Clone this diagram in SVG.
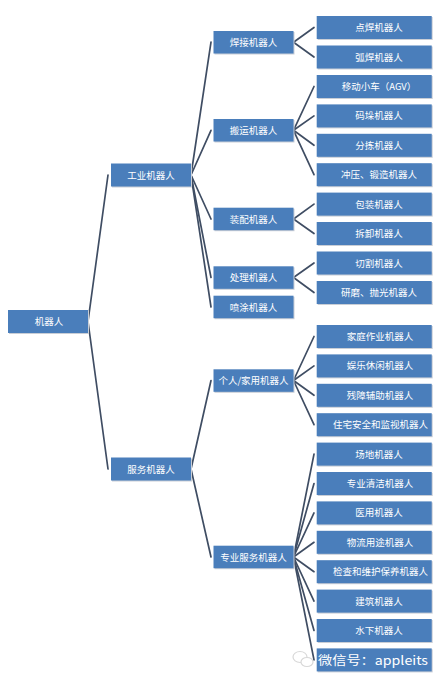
<svg xmlns="http://www.w3.org/2000/svg" width="439" height="681" viewBox="0 0 439 681">
<style>
.b{fill:#4a7ebb;}
.s{fill:#c9ced6;}
.t{fill:#ffffff;font-family:"Noto Sans CJK SC","Noto Sans CJK JP",sans-serif;font-size:9.5px;text-anchor:middle;}
.c line{stroke:#3f4d63;stroke-width:1.7;stroke-linecap:round;}
.wm{fill:#ffffff;font-family:"Noto Sans CJK SC","Noto Sans CJK JP",sans-serif;font-size:12.5px;}
</style>
<defs>
<g id="leafbox"><rect class="s" x="1" y="1" width="115" height="23"/><rect class="b" x="0" y="0" width="115" height="23"/></g>
<g id="midbox"><rect class="s" x="1" y="1" width="80" height="22.5"/><rect class="b" x="0" y="0" width="80" height="22.5"/></g>
</defs>
<rect width="439" height="681" fill="#ffffff"/>
<g class="c" id="connectors">
<line x1="88" y1="321.5" x2="108" y2="175"/>
<line x1="88" y1="321.5" x2="108" y2="469"/>
<line x1="191" y1="175" x2="211" y2="42.2"/>
<line x1="191" y1="175" x2="211" y2="130.3"/>
<line x1="191" y1="175" x2="211" y2="219"/>
<line x1="191" y1="175" x2="211" y2="277.5"/>
<line x1="191" y1="175" x2="211" y2="307"/>
<line x1="191" y1="469" x2="211" y2="380.5"/>
<line x1="191" y1="469" x2="211" y2="557"/>
<line x1="293.5" y1="42.2" x2="314" y2="27.5"/>
<line x1="293.5" y1="42.2" x2="314" y2="57"/>
<line x1="293.5" y1="130.3" x2="314" y2="86.5"/>
<line x1="293.5" y1="130.3" x2="314" y2="115.9"/>
<line x1="293.5" y1="130.3" x2="314" y2="145.3"/>
<line x1="293.5" y1="130.3" x2="314" y2="174.7"/>
<line x1="293.5" y1="219" x2="314" y2="204.1"/>
<line x1="293.5" y1="219" x2="314" y2="233.5"/>
<line x1="293.5" y1="277.5" x2="314" y2="263"/>
<line x1="293.5" y1="277.5" x2="314" y2="292.5"/>
<line x1="293.5" y1="380.5" x2="314" y2="336.5"/>
<line x1="293.5" y1="380.5" x2="314" y2="365.9"/>
<line x1="293.5" y1="380.5" x2="314" y2="395.3"/>
<line x1="293.5" y1="380.5" x2="314" y2="424.7"/>
<line x1="293.5" y1="557" x2="314" y2="454.1"/>
<line x1="293.5" y1="557" x2="314" y2="483.5"/>
<line x1="293.5" y1="557" x2="314" y2="512.9"/>
<line x1="293.5" y1="557" x2="314" y2="542.3"/>
<line x1="293.5" y1="557" x2="314" y2="571.7"/>
<line x1="293.5" y1="557" x2="314" y2="601.1"/>
<line x1="293.5" y1="557" x2="314" y2="630.5"/>
<line x1="293.5" y1="557" x2="314" y2="659.9"/>
</g>
<g id="root"><rect class="s" x="9" y="311" width="80" height="23"/><rect class="b" x="8" y="310" width="80" height="23"/><text class="t" x="49" y="325">机器人</text></g>
<g id="n-gongye"><rect class="s" x="112" y="164.5" width="80" height="23"/><rect class="b" x="111" y="163.5" width="80" height="23"/><text class="t" x="151" y="178.5">工业机器人</text></g>
<g id="n-fuwu"><rect class="s" x="112" y="458.5" width="80" height="23"/><rect class="b" x="111" y="457.5" width="80" height="23"/><text class="t" x="151" y="472.5">服务机器人</text></g>
<g id="n-hanjie"><use href="#midbox" x="213.5" y="31"/><text class="t" x="253.5" y="45.7">焊接机器人</text></g>
<g id="n-banyun"><use href="#midbox" x="213.5" y="119"/><text class="t" x="253.5" y="133.8">搬运机器人</text></g>
<g id="n-zhuangpei"><use href="#midbox" x="213.5" y="207.7"/><text class="t" x="253.5" y="222.5">装配机器人</text></g>
<g id="n-chuli"><use href="#midbox" x="213.5" y="266.3"/><text class="t" x="253.5" y="281">处理机器人</text></g>
<g id="n-pentu"><use href="#midbox" x="213.5" y="295.7"/><text class="t" x="253.5" y="310.5">喷涂机器人</text></g>
<g id="n-geren"><use href="#midbox" x="213.5" y="369.3"/><text class="t" x="253.5" y="384">个人/家用机器人</text></g>
<g id="n-zhuanye"><use href="#midbox" x="213.5" y="545.7"/><text class="t" x="253.5" y="560.5">专业服务机器人</text></g>
<g id="l1"><use href="#leafbox" x="316.7" y="16"/><text class="t" x="379" y="31">点焊机器人</text></g>
<g id="l2"><use href="#leafbox" x="316.7" y="45.5"/><text class="t" x="379" y="60.5">弧焊机器人</text></g>
<g id="l3"><use href="#leafbox" x="316.7" y="75"/><text class="t" x="379" y="90">移动小车（AGV）</text></g>
<g id="l4"><use href="#leafbox" x="316.7" y="104.4"/><text class="t" x="379" y="119.4">码垛机器人</text></g>
<g id="l5"><use href="#leafbox" x="316.7" y="133.8"/><text class="t" x="379" y="148.8">分拣机器人</text></g>
<g id="l6"><use href="#leafbox" x="316.7" y="163.2"/><text class="t" x="379" y="178.2">冲压、锻造机器人</text></g>
<g id="l7"><use href="#leafbox" x="316.7" y="192.6"/><text class="t" x="379" y="207.6">包装机器人</text></g>
<g id="l8"><use href="#leafbox" x="316.7" y="222"/><text class="t" x="379" y="237">拆卸机器人</text></g>
<g id="l9"><use href="#leafbox" x="316.7" y="251.5"/><text class="t" x="379" y="266.5">切割机器人</text></g>
<g id="l10"><use href="#leafbox" x="316.7" y="281"/><text class="t" x="379" y="296">研磨、抛光机器人</text></g>
<g id="l11"><use href="#leafbox" x="316.7" y="325"/><text class="t" x="380" y="340">家庭作业机器人</text></g>
<g id="l12"><use href="#leafbox" x="316.7" y="354.4"/><text class="t" x="380" y="369.4">娱乐休闲机器人</text></g>
<g id="l13"><use href="#leafbox" x="316.7" y="383.8"/><text class="t" x="380" y="398.8">残障辅助机器人</text></g>
<g id="l14"><use href="#leafbox" x="316.7" y="413.2"/><text class="t" x="380.5" y="428.2">住宅安全和监视机器人</text></g>
<g id="l15"><use href="#leafbox" x="316.7" y="442.6"/><text class="t" x="379" y="457.6">场地机器人</text></g>
<g id="l16"><use href="#leafbox" x="316.7" y="472"/><text class="t" x="380" y="487">专业清洁机器人</text></g>
<g id="l17"><use href="#leafbox" x="316.7" y="501.4"/><text class="t" x="379" y="516.4">医用机器人</text></g>
<g id="l18"><use href="#leafbox" x="316.7" y="530.8"/><text class="t" x="380" y="545.8">物流用途机器人</text></g>
<g id="l19"><use href="#leafbox" x="316.7" y="560.2"/><text class="t" x="380.5" y="575.2">检查和维护保养机器人</text></g>
<g id="l20"><use href="#leafbox" x="316.7" y="589.6"/><text class="t" x="379" y="604.6">建筑机器人</text></g>
<g id="l21"><use href="#leafbox" x="316.7" y="619"/><text class="t" x="379" y="634">水下机器人</text></g>
<g id="l22"><use href="#leafbox" x="316.7" y="648.4"/></g>
<g id="watermark">
<ellipse cx="300" cy="657" rx="7" ry="5.5" fill="none" stroke="#d8d8d8" stroke-width="1.2"/>
<ellipse cx="307" cy="662" rx="6" ry="4.5" fill="#ffffff" stroke="#d8d8d8" stroke-width="1.2"/>
<text class="wm" x="318" y="665" textLength="110" lengthAdjust="spacingAndGlyphs">微信号：appleits</text>
</g>
</svg>
